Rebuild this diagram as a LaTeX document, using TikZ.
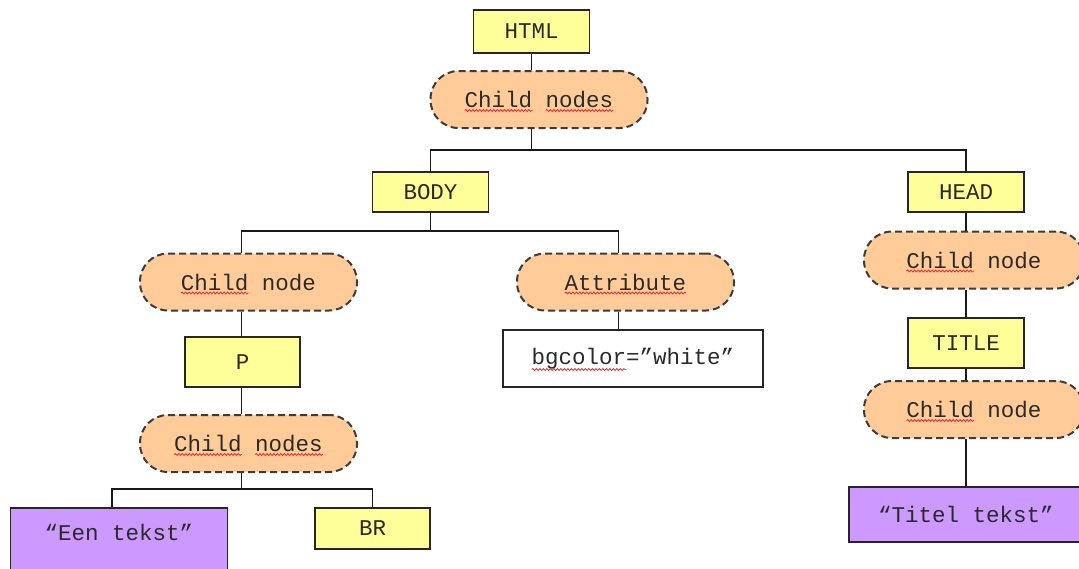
\documentclass[tikz,border=0pt]{standalone}
\usepackage{fontspec}
\setmainfont{Liberation Mono}
\usetikzlibrary{calc,decorations.pathmorphing}

\definecolor{tagyellow}{HTML}{FFFF99}
\definecolor{peach}{HTML}{FFCC99}
\definecolor{lilac}{HTML}{CC99FF}
\definecolor{ink}{HTML}{2A2A2A}
\definecolor{dashgray}{HTML}{3C3C3C}
\definecolor{spell}{HTML}{E8302A}

\tikzset{
  every node/.style={font=\fontsize{22.5}{26}\selectfont, text=ink, inner sep=0pt},
  tagbox/.style={draw=black!85, line width=1.4pt, fill=tagyellow,
                 minimum width=116pt, minimum height=41pt},
  textbox/.style={draw=black!85, line width=1.4pt, fill=lilac,
                  minimum width=217pt, minimum height=56pt},
  attrbox/.style={draw=black!85, line width=1.4pt, fill=white,
                  minimum width=260pt, minimum height=57pt},
  listpill/.style={draw=dashgray, line width=2pt, dash pattern=on 7pt off 4pt,
                   fill=peach, rounded corners=28pt,
                   minimum width=217pt, minimum height=57pt},
  edge/.style={draw=black!90, line width=1.5pt},
  squiggle/.style={draw=spell, line width=0.8pt, decorate,
                   decoration={snake, amplitude=1pt, segment length=3.5pt}}
}

% wavy underline below characters #2..#3 of a #4-character label in node #1
\newcommand\spellmark[4]{%
  \draw[squiggle] ($(#1.center)+({(#2-#4/2)*13.5},11)$) --
                  ($(#1.center)+({(#3-#4/2)*13.5},11)$);}

\begin{document}
\begin{tikzpicture}[x=1pt,y=-1pt]
\useasboundingbox (0,0) rectangle (1079,568);
\clip (0,0) rectangle (1079,568);

% document root
\node[tagbox, minimum height=43pt] (html) at (531.5,31.5) {HTML};
\node[listpill] (cn1) at (539,99.5) {Child nodes};

% body branch
\node[tagbox, minimum height=40pt] (body) at (430.5,192) {BODY};
\node[listpill] (cnL) at (248.5,282) {Child node};
\node[listpill] (attr) at (625.5,282) {Attribute};
\node[attrbox] (bg) at (633,358.5) {bgcolor=”white”};
\node[tagbox, minimum width=115pt, minimum height=50pt] (p) at (242.5,362) {P};
\node[listpill] (cnL2) at (248.5,443.5) {Child nodes};
\node[textbox, minimum height=72pt, text height=16pt, text depth=24pt] (een) at (119,544) {“Een tekst”};
\node[tagbox, minimum width=115pt] (br) at (372.5,528.5) {BR};

% head branch
\node[tagbox, minimum height=40pt] (head) at (966,192) {HEAD};
\node[listpill, minimum width=220pt] (cnR) at (974,260) {Child node};
\node[tagbox, minimum height=50pt] (title) at (966,343) {TITLE};
\node[listpill, minimum width=220pt] (cnR2) at (974,409.5) {Child node};
\node[textbox, minimum width=234pt, minimum height=55pt] (titel) at (966,514.5) {“Titel tekst”};

% spelling marks
\spellmark{cn1}{0}{5}{11}
\spellmark{cn1}{6}{11}{11}
\spellmark{cnL}{0}{5}{10}
\spellmark{attr}{0}{9}{9}
\spellmark{bg}{0}{7}{15}
\spellmark{cnL2}{0}{5}{11}
\spellmark{cnL2}{6}{11}{11}
\spellmark{cnR}{0}{5}{10}
\spellmark{cnR2}{0}{5}{10}

% junction points
\coordinate (j1) at (531.5,150);
\coordinate (j2) at (430.5,231);
\coordinate (xL) at (241.5,231);
\coordinate (xA) at (618.5,231);
\coordinate (j3) at (241.5,489);
\coordinate (xE) at (112,489);
\coordinate (xB) at (372.5,489);

% connectors
\draw[edge] (html.south) -- (html.south |- cn1.north);
\draw[edge] (cn1.south -| html.south) -- (j1);
\draw[edge] (body.north) |- (j1);
\draw[edge] (head.north) |- (j1);

\draw[edge] (body.south) -- (j2);
\draw[edge] (xL |- cnL.north) -- (xL) -- (xA) -- (xA |- attr.north);
\draw[edge] (xA |- attr.south) -- (xA |- bg.north);
\draw[edge] (xL |- cnL.south) -- (xL |- p.north);
\draw[edge] (xL |- p.south) -- (xL |- cnL2.north);
\draw[edge] (xL |- cnL2.south) -- (j3);
\draw[edge] (xE |- een.north) -- (xE) -- (xB) -- (br.north);

\draw[edge] (head.south) -- (head.south |- cnR.north);
\draw[edge] (head.south |- cnR.south) -- (title.north);
\draw[edge] (title.south) -- (title.south |- cnR2.north);
\draw[edge] (title.south |- cnR2.south) -- (titel.north);
\end{tikzpicture}
\end{document}
